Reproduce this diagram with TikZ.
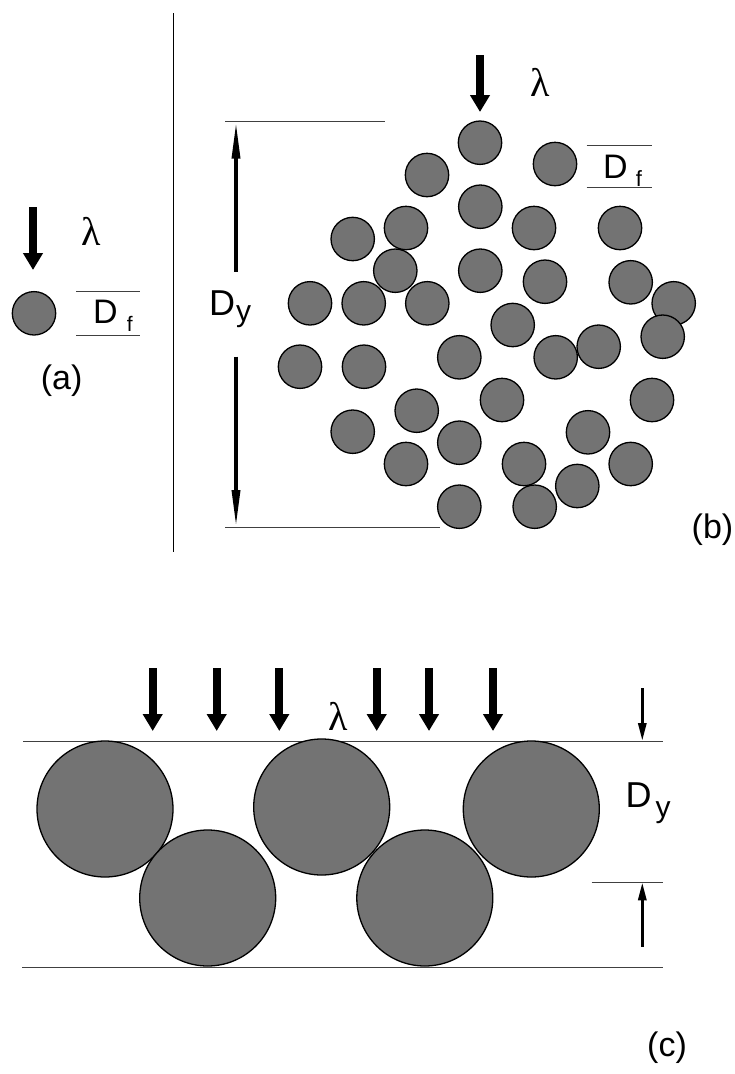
\documentclass[tikz,border=0pt]{standalone}
\usepackage{fontspec}
\setmainfont{Liberation Sans}
\newfontfamily\greekfont{Liberation Serif}
\usetikzlibrary{arrows.meta}
\begin{document}
\begin{tikzpicture}[x=1pt,y=-1pt,
  fib/.style={circle,draw=black,line width=1.3pt,fill=black!55,inner sep=0pt,outer sep=0pt,minimum size=43.4pt},
  bigfib/.style={fib,minimum size=136pt},
  guide/.style={draw=black!75,line width=0.9pt},
  beam/.style={line width=8.3pt,-{Triangle[width=19pt,length=17pt]}},
  dimarrow/.style={line width=3.5pt,-{Triangle[width=8pt,length=37pt]}},
  dimarrowc/.style={line width=3pt,-{Triangle[width=8pt,length=18pt]}},
  lab/.style={font=\fontsize{34}{34}\selectfont,inner sep=0pt},
  dlab/.style={font=\fontsize{36}{36}\selectfont,inner sep=0pt,anchor=base west},
  lam/.style={font=\greekfont\fontsize{40}{40}\selectfont,inner sep=0pt},
]
\useasboundingbox[fill=white] (0,0) rectangle (734,1074);

% ---------- panel (a) ----------
\coordinate (aTop) at (33,207);
\coordinate (aTip) at (33,270);
\draw[beam] (aTop) -- (aTip);
\node[lam] (lamA) at (90.7,231.7) {λ};
\node[fib] (fA) at (34,313.3) {};
\coordinate (aL1) at (76,291);   \coordinate (aR1) at (140,291);
\coordinate (aL2) at (76,335);   \coordinate (aR2) at (140,335);
\draw[guide] (aL1) -- (aR1);
\draw[guide] (aL2) -- (aR2);
\node[dlab,font=\fontsize{34}{34}\selectfont] (dfA) at (93,323.3) {D\hspace{9pt}\raisebox{-8pt}{\fontsize{21}{21}\selectfont f}};
\node[lab] (labA) at (61.7,381) {(a)};

% divider
\coordinate (divT) at (173,13);
\coordinate (divB) at (173,552);
\draw[line width=1pt] (divT) -- (divB);

% ---------- panel (b) ----------
\coordinate (bTop) at (480,55);
\coordinate (bTip) at (480,112);
\draw[beam] (bTop) -- (bTip);
\node[lam] (lamB) at (540,82) {λ};

\foreach \x/\y [count=\i] in {
 480/142.7, 555/164, 427/175, 480.3/206.7, 534/228, 620/228, 352.7/239, 406/228,
 395.3/270.7, 480.3/270.7, 545/281.7, 630.7/282.3, 673.7/303.3, 310/303.3, 363.7/303.3,
 427.3/303.3, 512.7/325, 662.7/336.7, 598.7/346.7, 555.7/357.3, 459.3/357.3, 300/366.7,
 364/366.7, 502/400, 652/400, 416.7/410.7, 352.7/431.7, 588/432.3, 459.3/442.7,
 406/464, 524/464, 630.7/464, 577.3/486, 459.3/506.7, 534.7/506.7}
 \node[fib] (fb\i) at (\x,\y) {};

% D_y dimension (b)
\coordinate (bDyL1) at (225,121.7); \coordinate (bDyR1) at (385,121.7);
\coordinate (bDyL2) at (225,527);   \coordinate (bDyR2) at (440,527);
\draw[guide] (bDyL1) -- (bDyR1);
\draw[guide] (bDyL2) -- (bDyR2);
\coordinate (bUpS) at (236,271.7); \coordinate (bUpE) at (236,121.7);
\coordinate (bDnS) at (236,356.7); \coordinate (bDnE) at (236,527);
\draw[dimarrow] (bUpS) -- (bUpE);
\draw[dimarrow] (bDnS) -- (bDnE);
\node[dlab] (dyB) at (209,315) {D\hspace{1pt}\raisebox{-6pt}{\fontsize{30}{30}\selectfont y}};

% D_f (b)
\coordinate (bDfL1) at (586.7,145.7); \coordinate (bDfR1) at (652,145.7);
\coordinate (bDfL2) at (586.7,187.7); \coordinate (bDfR2) at (652,187.7);
\draw[guide] (bDfL1) -- (bDfR1);
\draw[guide] (bDfL2) -- (bDfR2);
\node[dlab,font=\fontsize{34}{34}\selectfont] (dfB) at (603,178) {D\hspace{8pt}\raisebox{-8.5pt}{\fontsize{22}{22}\selectfont f}};
\node[lab] (labB) at (712.5,530) {(b)};

% ---------- panel (c) ----------
\coordinate (cTL) at (23,741);  \coordinate (cTR) at (663,741);
\coordinate (cBL) at (22,967);  \coordinate (cBR) at (663,967);
\draw[guide] (cTL) -- (cTR);
\draw[guide] (cBL) -- (cBR);
\node[bigfib] (fc1) at (105,809) {};
\node[bigfib] (fc2) at (207.7,898) {};
\node[bigfib] (fc3) at (321.7,807) {};
\node[bigfib] (fc4) at (424.8,898) {};
\node[bigfib] (fc5) at (531.3,809) {};
\foreach \x [count=\i] in {152.7,216.7,279.3,376.7,429,493}{
  \coordinate (cA\i) at (\x,668);
  \coordinate (cT\i) at (\x,731);
  \draw[beam] (cA\i) -- (cT\i);
}
\node[lam] (lamC) at (338,716) {λ};

\coordinate (cDnS) at (642.3,688);   \coordinate (cDnE) at (642.3,741);
\coordinate (cLL) at (591.7,882.3);  \coordinate (cLR) at (663.3,882.3);
\coordinate (cUpS) at (642.3,946.7); \coordinate (cUpE) at (642.3,882.3);
\draw[dimarrowc] (cDnS) -- (cDnE);
\draw[guide] (cLL) -- (cLR);
\draw[dimarrowc] (cUpS) -- (cUpE);
\node[dlab] (dyC) at (625.5,807) {D\hspace{4pt}\raisebox{-10pt}{\fontsize{30}{30}\selectfont y}};
\node[lab] (labC) at (667,1048) {(c)};
\end{tikzpicture}
\end{document}
